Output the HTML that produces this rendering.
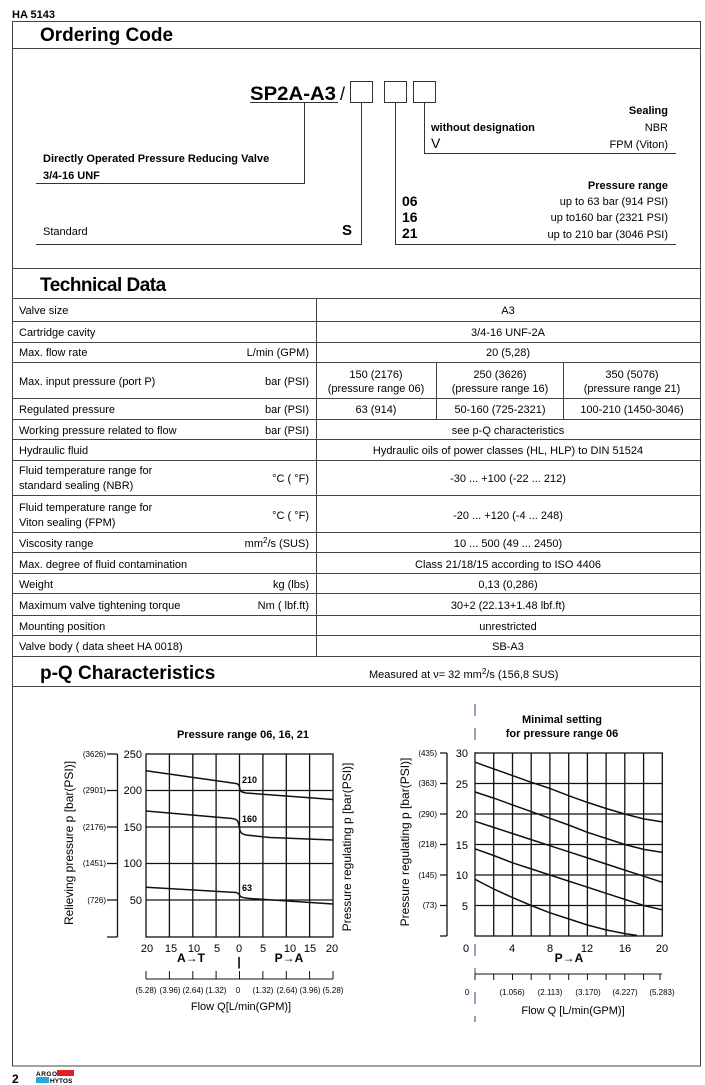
<!DOCTYPE html>
<html><head><meta charset="utf-8"><style>
html,body{margin:0;padding:0;background:#fff;}
svg{display:block;font-family:"Liberation Sans",sans-serif;}
</style></head><body>
<svg width="705" height="1085" viewBox="0 0 705 1085" xmlns="http://www.w3.org/2000/svg">
<rect width="705" height="1085" fill="#fff"/>
<text x="12" y="18" font-size="11" font-weight="bold">HA 5143</text>
<g stroke="#444" stroke-width="1" fill="none">
<rect x="12.5" y="21.5" width="688" height="1044.5"/>
<line x1="12" y1="48.5" x2="701" y2="48.5"/>
<line x1="12" y1="268.5" x2="701" y2="268.5"/>
<line x1="12" y1="298.5" x2="701" y2="298.5"/>
<line x1="12" y1="321.5" x2="701" y2="321.5"/>
<line x1="12" y1="342.5" x2="701" y2="342.5"/>
<line x1="12" y1="362.5" x2="701" y2="362.5"/>
<line x1="12" y1="398.5" x2="701" y2="398.5"/>
<line x1="12" y1="419.5" x2="701" y2="419.5"/>
<line x1="12" y1="439.5" x2="701" y2="439.5"/>
<line x1="12" y1="460.5" x2="701" y2="460.5"/>
<line x1="12" y1="495.5" x2="701" y2="495.5"/>
<line x1="12" y1="532.5" x2="701" y2="532.5"/>
<line x1="12" y1="552.5" x2="701" y2="552.5"/>
<line x1="12" y1="573.5" x2="701" y2="573.5"/>
<line x1="12" y1="593.5" x2="701" y2="593.5"/>
<line x1="12" y1="615.5" x2="701" y2="615.5"/>
<line x1="12" y1="635.5" x2="701" y2="635.5"/>
<line x1="12" y1="656.5" x2="701" y2="656.5"/>
<line x1="12" y1="686.5" x2="701" y2="686.5"/>
<line x1="316.5" y1="298" x2="316.5" y2="656"/>
<line x1="436.5" y1="362" x2="436.5" y2="419"/>
<line x1="563.5" y1="362" x2="563.5" y2="419"/>
</g>
<text x="40" y="41" font-size="19" font-weight="bold">Ordering Code</text>
<text x="40" y="291" font-size="19" font-weight="bold" letter-spacing="-0.5">Technical Data</text>
<text x="40" y="679" font-size="19" font-weight="bold">p-Q Characteristics</text>
<text x="369" y="678" font-size="11">Measured at ν= 32 mm<tspan dy="-4" font-size="8">2</tspan><tspan dy="4">/s  (156,8 SUS)</tspan></text>

<!-- Ordering code -->
<text x="250" y="100" font-size="19" font-weight="bold" textLength="86" lengthAdjust="spacingAndGlyphs">SP2A-A3</text>
<text x="340" y="100" font-size="18">/</text>
<g stroke="#333" fill="none" stroke-width="1">
<rect x="350.5" y="81.5" width="22" height="21"/>
<rect x="384.5" y="81.5" width="22" height="21"/>
<rect x="413.5" y="81.5" width="22" height="21"/>
<polyline points="250,102.5 338,102.5"/>
<polyline points="304.5,102 304.5,183.5 36,183.5"/>
<polyline points="361.5,103 361.5,244.5 36,244.5"/>
<polyline points="395.5,103 395.5,244.5 676,244.5"/>
<polyline points="424.5,103 424.5,153.5 676,153.5"/>
</g>
<g font-size="11">
<text x="43" y="162" font-weight="bold">Directly Operated Pressure Reducing Valve</text>
<text x="43" y="179" font-weight="bold">3/4-16 UNF</text>
<text x="43" y="235">Standard</text>
<text x="342" y="235" font-size="15" font-weight="bold">S</text>
<text x="668" y="114" text-anchor="end" font-weight="bold">Sealing</text>
<text x="431" y="131" font-weight="bold">without designation</text>
<text x="668" y="131" text-anchor="end">NBR</text>
<text x="431" y="148" font-size="14">V</text>
<text x="668" y="148" text-anchor="end">FPM (Viton)</text>
<text x="668" y="189" text-anchor="end" font-weight="bold">Pressure range</text>
<text x="402" y="206" font-size="14" font-weight="bold">06</text>
<text x="402" y="222" font-size="14" font-weight="bold">16</text>
<text x="402" y="238" font-size="14" font-weight="bold">21</text>
<text x="668" y="205" text-anchor="end">up to 63 bar (914 PSI)</text>
<text x="668" y="221" text-anchor="end">up to160 bar (2321 PSI)</text>
<text x="668" y="238" text-anchor="end">up to 210 bar (3046 PSI)</text>
</g>

<!-- table -->
<g font-size="11">
<text x="19" y="314">Valve size</text><text x="508" y="314" text-anchor="middle">A3</text>
<text x="19" y="336">Cartridge cavity</text><text x="508" y="336" text-anchor="middle">3/4-16 UNF-2A</text>
<text x="19" y="356">Max. flow rate</text><text x="309" y="356" text-anchor="end">L/min (GPM)</text><text x="508" y="356" text-anchor="middle">20 (5,28)</text>
<text x="19" y="385">Max. input pressure (port P)</text><text x="309" y="385" text-anchor="end">bar (PSI)</text>
<text x="376" y="378" text-anchor="middle">150 (2176)</text><text x="376" y="392" text-anchor="middle">(pressure range 06)</text>
<text x="500" y="378" text-anchor="middle">250 (3626)</text><text x="500" y="392" text-anchor="middle">(pressure range 16)</text>
<text x="632" y="378" text-anchor="middle">350 (5076)</text><text x="632" y="392" text-anchor="middle">(pressure range 21)</text>
<text x="19" y="413">Regulated pressure</text><text x="309" y="413" text-anchor="end">bar (PSI)</text>
<text x="376" y="413" text-anchor="middle">63 (914)</text><text x="500" y="413" text-anchor="middle">50-160 (725-2321)</text><text x="632" y="413" text-anchor="middle">100-210 (1450-3046)</text>
<text x="19" y="434">Working pressure related to flow</text><text x="309" y="434" text-anchor="end">bar (PSI)</text><text x="508" y="434" text-anchor="middle">see p-Q characteristics</text>
<text x="19" y="454">Hydraulic fluid</text><text x="508" y="454" text-anchor="middle">Hydraulic oils of power classes (HL, HLP) to DIN 51524</text>
<text x="19" y="474">Fluid temperature range for</text><text x="19" y="489">standard sealing (NBR)</text><text x="309" y="482" text-anchor="end">°C ( °F)</text><text x="508" y="482" text-anchor="middle">-30 ... +100 (-22 ... 212)</text>
<text x="19" y="511">Fluid temperature range for</text><text x="19" y="526">Viton sealing (FPM)</text><text x="309" y="519" text-anchor="end">°C ( °F)</text><text x="508" y="519" text-anchor="middle">-20 ... +120 (-4 ... 248)</text>
<text x="19" y="547">Viscosity range</text><text x="309" y="547" text-anchor="end">mm<tspan dy="-4" font-size="8">2</tspan><tspan dy="4">/s (SUS)</tspan></text><text x="508" y="547" text-anchor="middle">10 ... 500 (49 ... 2450)</text>
<text x="19" y="568">Max. degree of fluid contamination</text><text x="508" y="568" text-anchor="middle">Class 21/18/15 according to ISO 4406</text>
<text x="19" y="588">Weight</text><text x="309" y="588" text-anchor="end">kg (lbs)</text><text x="508" y="588" text-anchor="middle">0,13 (0,286)</text>
<text x="19" y="609">Maximum valve tightening torque</text><text x="309" y="609" text-anchor="end">Nm ( lbf.ft)</text><text x="508" y="609" text-anchor="middle">30+2 (22.13+1.48 lbf.ft)</text>
<text x="19" y="630">Mounting position</text><text x="508" y="630" text-anchor="middle">unrestricted</text>
<text x="19" y="650">Valve body  ( data sheet HA 0018)</text><text x="508" y="650" text-anchor="middle">SB-A3</text>
</g>

<!-- left chart -->
<text x="243" y="738" font-size="11" font-weight="bold" text-anchor="middle">Pressure range 06, 16, 21</text>
<g stroke="#111" stroke-width="1.3" fill="none">
<rect x="146" y="754" width="187" height="183"/>
<path d="M169.4 754V937M192.8 754V937M216.1 754V937M239.5 754V937M262.9 754V937M286.3 754V937M309.6 754V937"/>
<path d="M146 790.5H333M146 827H333M146 863.5H333M146 900H333"/>
<path d="M117.5 754V937M107 754H117.5M107 790.5H117.5M107 827H117.5M107 863.5H117.5M107 900H117.5M107 937H117.5"/>
<path d="M146 979H333M146 971V979M169.4 971V979M192.8 971V979M216.1 971V979M239.5 971V979M262.9 971V979M286.3 971V979M309.6 971V979M333 971V979" stroke-width="1"/>
</g>
<g stroke="#111" stroke-width="1.5" fill="none">
<path d="M146 770.8 L236 783.5 C239 784 239.5 786 240 790 C241 792 243 792.5 246 793 L333 799.5"/>
<path d="M146 811 L232 818.5 C238 819 238.5 822 239.5 828 C240 833 242 834 246 835 L270 837.5 L333 840"/>
<path d="M146 887.2 L236 892.5 C239 893 239.5 895 240.5 896.5 C242 897.5 244 898 250 898.5 L333 904"/>
</g>
<g font-size="9" font-weight="bold"><text x="242" y="783">210</text><text x="242" y="822">160</text><text x="242" y="891">63</text></g>
<g font-size="11" text-anchor="end"><text x="142" y="758">250</text><text x="142" y="794">200</text><text x="142" y="831">150</text><text x="142" y="867">100</text><text x="142" y="904">50</text></g>
<g font-size="8" text-anchor="end"><text x="106" y="757">(3626)</text><text x="106" y="793">(2901)</text><text x="106" y="830">(2176)</text><text x="106" y="866">(1451)</text><text x="106" y="903">(726)</text></g>
<text transform="translate(73,843) rotate(-90)" font-size="12" text-anchor="middle">Relieving pressure p [bar(PSI)]</text>
<text transform="translate(351,847) rotate(-90)" font-size="12" text-anchor="middle">Pressure regulating p [bar(PSI)]</text>
<g font-size="11" text-anchor="middle"><text x="147" y="952">20</text><text x="171" y="952">15</text><text x="194" y="952">10</text><text x="217" y="952">5</text><text x="239" y="952">0</text><text x="263" y="952">5</text><text x="290" y="952">10</text><text x="310" y="952">15</text><text x="332" y="952">20</text></g>
<g font-size="12" font-weight="bold" text-anchor="middle"><text x="191" y="962">A→T</text><text x="239" y="966">|</text><text x="289" y="962">P→A</text></g>
<g font-size="8" text-anchor="middle"><text x="146" y="993">(5.28)</text><text x="170" y="993">(3.96)</text><text x="193" y="993">(2.64)</text><text x="216" y="993">(1.32)</text><text x="238" y="993">0</text><text x="263" y="993">(1.32)</text><text x="287" y="993">(2.64)</text><text x="310" y="993">(3.96)</text><text x="333" y="993">(5.28)</text></g>
<text x="241" y="1010" font-size="11" text-anchor="middle">Flow Q[L/min(GPM)]</text>

<!-- right chart -->
<line x1="475" y1="704" x2="475" y2="1022" stroke="#3a3a7a" stroke-width="1" stroke-dasharray="12,12"/>
<text x="562" y="723" font-size="11" font-weight="bold" text-anchor="middle">Minimal setting</text>
<text x="562" y="737" font-size="11" font-weight="bold" text-anchor="middle">for pressure range 06</text>
<g stroke="#111" stroke-width="1.3" fill="none">
<rect x="475" y="753" width="187.3" height="183"/>
<path d="M493.7 753V936M512.5 753V936M531.2 753V936M549.9 753V936M568.7 753V936M587.4 753V936M606.1 753V936M624.8 753V936M643.6 753V936"/>
<path d="M475 783.5H662M475 814H662M475 844.5H662M475 875H662M475 905.5H662"/>
<path d="M447 753V936M440 753H447M440 783.5H447M440 814H447M440 844.5H447M440 875H447M440 905.5H447M440 936H447"/>
<path d="M475 974H662M475 974V980M493.7 974V980M512.5 974V980M531.2 974V980M549.9 974V980M568.7 974V980M587.4 974V980M606.1 974V980M624.8 974V980M643.6 974V980M660 974V980" stroke-width="1"/>
</g>
<g stroke="#111" stroke-width="1.5" fill="none" stroke-linejoin="round">
<polyline points="475,762.2 493.7,768.9 512.5,775.6 531.2,782.3 549.9,788.4 568.7,795.7 587.4,802.4 606.1,808.5 624.8,814 643.6,818.9 662.3,821.9"/>
<polyline points="475,792 493.7,798.1 512.5,804.9 531.2,811.6 549.9,818.3 568.7,825 587.4,832.3 606.1,838.4 624.8,844.5 643.6,849.4 662.3,852.4"/>
<polyline points="475,821.3 493.7,827.4 512.5,833.5 531.2,839.6 549.9,845.7 568.7,851.8 587.4,857.9 606.1,864 624.8,870.1 643.6,876.2 662.3,882.3"/>
<polyline points="475,848.8 493.7,855.5 512.5,862.8 531.2,868.9 549.9,875 568.7,881.1 587.4,887.2 606.1,893.3 624.8,899.4 643.6,905.5 662.3,909.8"/>
<polyline points="475,879.3 493.7,889 512.5,897.6 531.2,905.5 549.9,912.8 568.7,918.9 587.4,925 606.1,929.9 624.8,933.6 637,935.4"/>
</g>
<g font-size="11" text-anchor="end"><text x="468" y="757">30</text><text x="468" y="788">25</text><text x="468" y="818">20</text><text x="468" y="849">15</text><text x="468" y="879">10</text><text x="468" y="910">5</text></g>
<g font-size="8" text-anchor="end"><text x="437" y="756">(435)</text><text x="437" y="786">(363)</text><text x="437" y="817">(290)</text><text x="437" y="847">(218)</text><text x="437" y="878">(145)</text><text x="437" y="908">(73)</text></g>
<text transform="translate(409,842) rotate(-90)" font-size="12" text-anchor="middle">Pressure regulating p [bar(PSI)]</text>
<g font-size="11" text-anchor="middle"><text x="466" y="952">0</text><text x="512" y="952">4</text><text x="550" y="952">8</text><text x="587" y="952">12</text><text x="625" y="952">16</text><text x="662" y="952">20</text></g>
<text x="569" y="962" font-size="12" font-weight="bold" text-anchor="middle">P→A</text>
<g font-size="8" text-anchor="middle"><text x="467" y="995">0</text><text x="512" y="995">(1.056)</text><text x="550" y="995">(2.113)</text><text x="588" y="995">(3.170)</text><text x="625" y="995">(4.227)</text><text x="662" y="995">(5.283)</text></g>
<text x="573" y="1014" font-size="11" text-anchor="middle">Flow Q [L/min(GPM)]</text>

<!-- footer -->
<text x="12" y="1083" font-size="12" font-weight="bold">2</text>
<rect x="57" y="1070" width="17" height="6" fill="#e31e24"/>
<rect x="36" y="1077" width="13" height="6" fill="#2ea3dc"/>
<text x="36" y="1076" font-size="6.5" font-weight="bold" letter-spacing="0.5">ARGO</text>
<text x="50" y="1083" font-size="6.5" font-weight="bold">HYTOS</text>
</svg>
</body></html>
